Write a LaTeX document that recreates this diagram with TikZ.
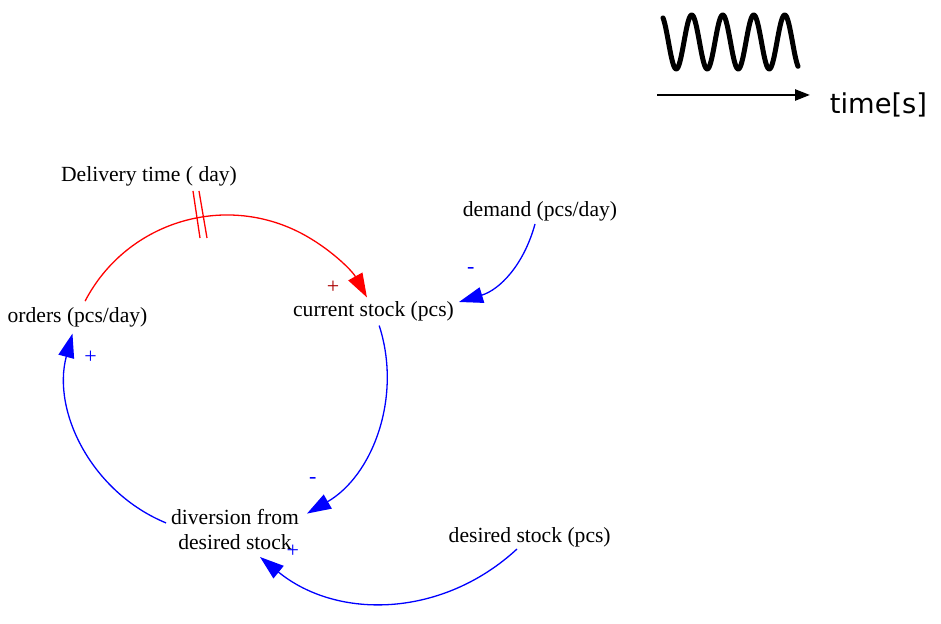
\documentclass[tikz,border=0pt]{standalone}
\usepackage{fontspec}
\setmainfont{Liberation Serif}
\newfontfamily\dejavu{DejaVu Sans}
\usetikzlibrary{arrows.meta,calc}
\definecolor{pureblue}{RGB}{0,0,255}
\definecolor{purered}{RGB}{255,0,0}
\definecolor{signred}{RGB}{170,0,0}
\begin{document}
\begin{tikzpicture}[x=1pt,y=1pt,
  lbl/.style={anchor=base, inner sep=0pt, font=\fontsize{21.6}{25}\selectfont},
  sign/.style={inner sep=0pt, font=\fontsize{22}{22}\selectfont},
  link/.style={line width=1.3pt, -{Triangle[length=24pt,width=16pt]}},
]
\useasboundingbox (0,0) rectangle (941,623);

% legend
\draw[line width=5pt, line cap=round, line join=round]
  plot[domain=663:798, samples=220, smooth] (\x, {581+27*cos((\x-691.7)*11.6129)});
\coordinate (axS) at (657,528);
\coordinate (axE) at (810,528);
\draw[line width=2.5pt, -{Triangle[length=15pt,width=11pt]}] (axS) -- (axE);
\node[anchor=base, inner sep=0pt, font=\dejavu\fontsize{27.3}{30}\selectfont] (time) at (878.5,509.7) {time[s]};

% variables
\node[lbl] (delivery) at (149,441.3) {Delivery time ( day)};
\node[lbl] (demand) at (540,406.3) {demand (pcs/day)};
\node[lbl] (orders) at (77.5,300) {orders (pcs/day)};
\node[lbl] (stock) at (373.5,306.3) {current stock (pcs)};
\node[inner sep=0pt, align=center, font=\fontsize{21.6}{25}\selectfont] (diversion) at (235,93.4) {diversion from\\desired stock};
\node[lbl] (desired) at (529.7,80.3) {desired stock (pcs)};

% loop
\coordinate (C) at (227,248);
\coordinate (ordersOut) at ($(C)+(152.5:160)$);
\coordinate (stockOut) at ($(C)+(18:160)$);
\coordinate (divOut) at ($(C)+(247.6:160)$);
\draw[link, purered] (ordersOut) arc[start angle=152.5, end angle=29, radius=160];
\draw[link, pureblue] (stockOut) arc[start angle=18, end angle=-60, radius=160];
\draw[link, pureblue] (divOut) arc[start angle=247.6, end angle=165, radius=160];

% delay marks
\coordinate (d1a) at (193,432); \coordinate (d1b) at (200,385);
\coordinate (d2a) at (199,432); \coordinate (d2b) at (207,385);
\draw[purered, line width=1.3pt] (d1a) -- (d1b);
\draw[purered, line width=1.3pt] (d2a) -- (d2b);

% external links
\coordinate (demandOut) at (535,399);
\coordinate (stockIn) at (459,321);
\draw[link, pureblue] (demandOut) to[bend left=29] (stockIn);
\coordinate (desOut) at (517,74);
\coordinate (divIn) at (260,66);
\draw[link, pureblue] (desOut) to[bend left=41] (divIn);

% polarities
\node[sign, text=signred] (p1) at (333,336) {+};
\node[sign, text=pureblue] (p2) at (90.7,265.5) {+};
\node[sign, text=pureblue] (p3) at (312.7,142.3) {-};
\node[sign, text=pureblue] (p4) at (470.7,352) {-};
\node[sign, text=pureblue] (p5) at (292.7,71.3) {+};
\end{tikzpicture}
\end{document}
